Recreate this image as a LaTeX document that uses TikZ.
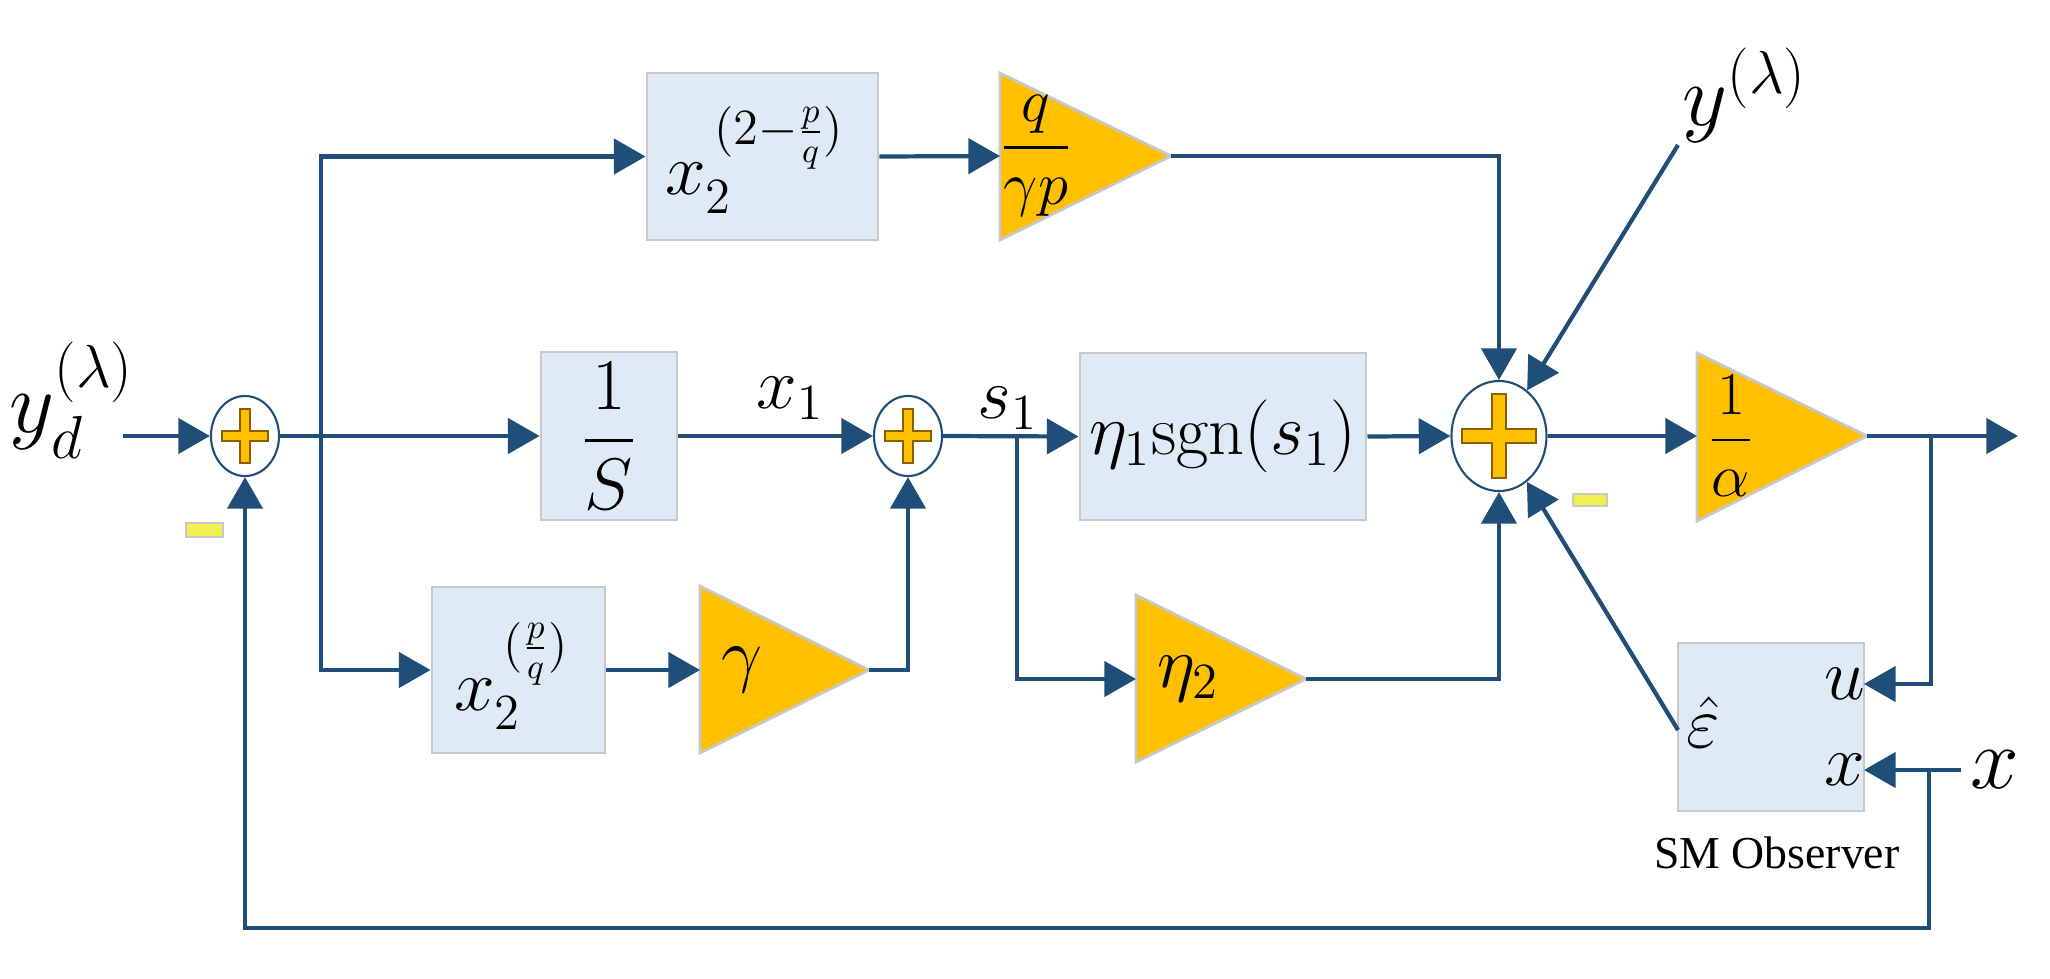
\documentclass[tikz,border=0pt]{standalone}
\usepackage{amsmath}
\usepackage{fontspec}
\newfontfamily\obsfont{Liberation Serif}
\usetikzlibrary{arrows.meta,shapes.geometric}
\definecolor{ln}{HTML}{1F4E79}
\definecolor{bx}{HTML}{DEEAF6}
\definecolor{bd}{HTML}{C8C8C8}
\definecolor{gold}{HTML}{FFC000}
\definecolor{golddk}{HTML}{8B5E00}
\definecolor{mn}{HTML}{F0F050}
\begin{document}
\begin{tikzpicture}[x=0.01cm,y=-0.01cm,
  font=\fontsize{20}{24}\selectfont,
  small/.style={font=\fontsize{17}{20}\selectfont},
  arr/.style={draw=ln,line width=1.2pt,-{Triangle[length=9pt,width=10pt]}},
  wire/.style={draw=ln,line width=1.2pt},
  blk/.style={rectangle,fill=bx,draw=bd,line width=0.8pt,inner sep=0pt},
  sum/.style={ellipse,draw=ln,fill=white,line width=0.6pt,inner sep=0pt},
  tri/.style={fill=gold,draw=bd,line width=0.8pt},
  pl/.style={fill=gold,draw=golddk,line width=0.8pt},
  mbox/.style={rectangle,fill=mn,draw=bd,line width=0.6pt,inner sep=0pt},
  smallplus/.pic={\path[pl] (-5,-27)--(5,-27)--(5,-5)--(23,-5)--(23,5)--(5,5)--(5,27)--(-5,27)--(-5,5)--(-23,5)--(-23,-5)--(-5,-5)--cycle;},
  bigplus/.pic={\path[pl] (-7,-42)--(7,-42)--(7,-7)--(37,-7)--(37,7)--(7,7)--(7,42)--(-7,42)--(-7,7)--(-37,7)--(-37,-7)--(-7,-7)--cycle;}]
\useasboundingbox (0,0) rectangle (2050,978);

% blocks
\node[blk,minimum width=2.31cm,minimum height=1.67cm] (T) at (762.5,156.5) {};
\node at (755,160) {$x_2^{\,(2-\frac{p}{q})}$};
\node[blk,minimum width=1.36cm,minimum height=1.68cm] (S) at (609,436) {$\dfrac{1}{S}$};
\node[blk,minimum width=1.73cm,minimum height=1.66cm] (B) at (518.5,670) {};
\node at (512,676) {$x_2^{\,(\frac{p}{q})}$};
\node[blk,minimum width=2.86cm,minimum height=1.67cm] (E) at (1223,436.5) {$\eta_1\mathrm{sgn}(s_1)$};
\node[blk,minimum width=1.86cm,minimum height=1.68cm] (O) at (1771,727) {};

% sums
\node[sum,minimum width=0.68cm,minimum height=0.80cm] (s1) at (245,436) {};
\pic at (245,436) {smallplus};
\node[sum,minimum width=0.68cm,minimum height=0.80cm] (s2) at (908,436) {};
\pic at (908,436) {smallplus};
\node[sum,minimum width=0.95cm,minimum height=1.10cm] (s3) at (1499,436) {};
\pic at (1499,436) {bigplus};

% triangles
\path[tri] (1000,73) -- (1171,156) -- (1000,240) -- cycle;
\coordinate (Qin) at (1000,156); \coordinate (Qtip) at (1171,156);
\node[small] at (1036,156) {$\dfrac{q}{\gamma p}$};
\path[tri] (700,586) -- (869,670) -- (700,753) -- cycle;
\coordinate (Gin) at (700,670); \coordinate (Gtip) at (869,670);
\node at (742,670) {$\gamma$};
\path[tri] (1136,595) -- (1306,679) -- (1136,762) -- cycle;
\coordinate (Nin) at (1136,679); \coordinate (Ntip) at (1306,679);
\node at (1188,679) {$\eta_2$};
\path[tri] (1697,353) -- (1867,436) -- (1697,521) -- cycle;
\coordinate (Ain) at (1697,436); \coordinate (Atip) at (1867,436);
\node[small] at (1731,436) {$\dfrac{1}{\alpha}$};

% coordinates
\coordinate (in) at (123,436);
\coordinate (br1) at (321,436);
\coordinate (br2) at (1017,436);
\coordinate (ylam) at (1678,145);
\coordinate (eps) at (1678,730);
\coordinate (out) at (2018,436);
\coordinate (br3) at (1931,436);
\coordinate (Ou) at (1864,684);
\coordinate (Ox) at (1864,770);
\coordinate (xin) at (1961,770);
\coordinate (br4) at (1929,770);
\coordinate (fb) at (1929,928);

% connectors
\draw[arr] (in) -- (s1.west);
\draw[arr] (s1.east) -- (S.west);
\draw[arr] (br1) |- (T.west);
\draw[arr] (br1) |- (B.west);
\draw[arr] (T.east) -- (Qin);
\draw[arr] (S.east) -- (s2.west);
\draw[arr] (B.east) -- (Gin);
\draw[arr] (Gtip) -| (s2.south);
\draw[arr] (s2.east) -- (E.west);
\draw[arr] (br2) |- (Nin);
\draw[arr] (E.east) -- (s3.west);
\draw[arr] (Qtip) -| (s3.north);
\draw[arr] (Ntip) -| (s3.south);
\draw[arr] (ylam) -- (s3);
\draw[arr] (eps) -- (s3);
\draw[arr] (s3.east) -- (Ain);
\draw[arr] (Atip) -- (out);
\draw[arr] (br3) |- (Ou);
\draw[arr] (xin) -- (Ox);
\draw[arr] (br4) -- (fb) -| (s1.south);

% labels
\node[font=\fontsize{24}{28}\selectfont] at (72,400) {$y_d^{(\lambda)}$};
\node at (790,398) {$x_1$};
\node at (1008,408) {$s_1$};
\node[font=\fontsize{24}{28}\selectfont] at (1745,95) {$y^{(\lambda)}$};
\node at (1703,722) {$\hat{\varepsilon}$};
\node at (1845,684) {$u$};
\node at (1845,770) {$x$};
\node[font=\fontsize{24}{28}\selectfont] at (1995,770) {$x$};
\node[font=\obsfont\fontsize{13}{16}\selectfont] at (1777,853) {SM Observer};
\node[mbox,minimum width=0.37cm,minimum height=0.14cm] at (204.5,530) {};
\node[mbox,minimum width=0.34cm,minimum height=0.12cm] at (1590,500) {};
\end{tikzpicture}
\end{document}
